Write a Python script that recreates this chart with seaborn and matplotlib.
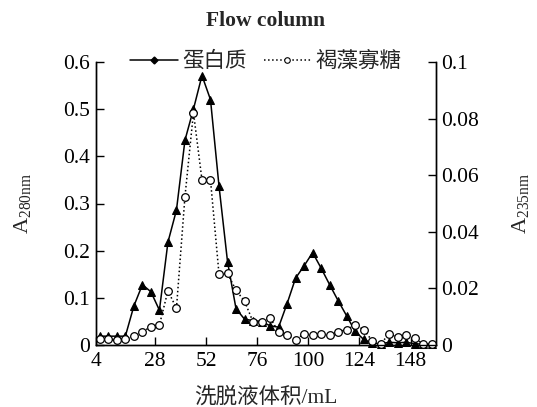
import numpy as np
import pandas as pd
import matplotlib
matplotlib.use("Agg")
import matplotlib.pyplot as plt
from matplotlib.lines import Line2D
from matplotlib.ticker import FuncFormatter
import seaborn as sns

sns.set_theme(style="ticks")
plt.rcParams["font.family"] = ["Liberation Serif", "Noto Sans CJK SC"]
plt.rcParams["mathtext.fontset"] = "stix"

# 洗脱液体积 (mL), one point per tube
volume = [2, 6, 10, 14, 18, 22, 26, 30, 34, 38,
          42, 46, 50, 54, 58, 62, 66, 70, 74, 78,
          82, 86, 90, 94, 98, 102, 106, 110, 114, 118,
          122, 126, 130, 134, 138, 142, 146, 150, 154, 158]

# 蛋白质 A280nm (left axis)
protein = [0.019, 0.019, 0.019, 0.019, 0.083, 0.128, 0.113, 0.074, 0.218, 0.286,
           0.434, 0.500, 0.571, 0.520, 0.337, 0.177, 0.077, 0.055, 0.052, 0.050,
           0.041, 0.038, 0.088, 0.142, 0.168, 0.196, 0.163, 0.128, 0.094, 0.062,
           0.029, 0.012, 0.004, 0.003, 0.006, 0.005, 0.006, 0.003, 0.002, 0.002]

# 褐藻寡糖 A235nm (right axis)
sugar = [0.0021, 0.0021, 0.0018, 0.0021, 0.0033, 0.0047, 0.0065, 0.0071, 0.0192, 0.0130,
         0.0524, 0.0821, 0.0583, 0.0583, 0.0251, 0.0253, 0.0194, 0.0155, 0.0082, 0.0082,
         0.0096, 0.0047, 0.0035, 0.0018, 0.0041, 0.0035, 0.0041, 0.0035, 0.0047, 0.0055,
         0.0071, 0.0055, 0.0015, 0.0004, 0.0041, 0.0027, 0.0035, 0.0024, 0.0004, 0.0004]

xticks = [0, 28, 52, 76, 100, 124, 148]
xticklabels = ["4", "28", "52", "76", "100", "124", "148"]

df = pd.DataFrame({"volume": volume, "protein": protein, "sugar": sugar})

fig = plt.figure(figsize=(5.37, 4.07), dpi=100)
ax = fig.add_axes([0.178, 0.152, 0.634, 0.696])
ax2 = ax.twinx()

sns.lineplot(data=df, x="volume", y="protein", ax=ax, color="black", lw=1.1,
             marker="^", markersize=6, markeredgecolor="black",
             estimator=None, sort=False, clip_on=False)
sns.lineplot(data=df, x="volume", y="sugar", ax=ax2, color="black", lw=1.1,
             linestyle=":", marker="o", markersize=5.5, markerfacecolor="white",
             markeredgecolor="black", markeredgewidth=0.9,
             estimator=None, sort=False, clip_on=False)

ax.set_xlim(0, 160)
ax.set_ylim(0, 0.6)
ax2.set_ylim(0, 0.1)
ax.set_xticks(xticks)
ax.set_xticklabels(xticklabels)
ax.set_yticks([0, 0.1, 0.2, 0.3, 0.4, 0.5, 0.6])
ax2.set_yticks([0, 0.02, 0.04, 0.06, 0.08, 0.1])
ax.yaxis.set_major_formatter(FuncFormatter(lambda v, p: f"{v:g}"))
ax2.yaxis.set_major_formatter(FuncFormatter(lambda v, p: f"{v:g}"))

for a in (ax, ax2):
    a.spines["top"].set_visible(False)
    for s in a.spines.values():
        s.set_linewidth(1.0)
        s.set_color("black")
    a.tick_params(direction="in", length=6, width=1.0, labelsize=15.5, colors="black", pad=4)
ax.tick_params(axis="x", pad=5)

ax.set_xlabel("洗脱液体积/mL", fontsize=15.5, labelpad=12)
ax.set_ylabel(r"A$\mathregular{_{280nm}}$", fontsize=16, labelpad=22)
ax2.set_ylabel(r"A$\mathregular{_{235nm}}$", fontsize=16, labelpad=22)
ax.set_title("Flow column", fontsize=15.5, fontweight="bold", pad=26)

handles = [
    Line2D([], [], color="black", lw=1.1, marker="D", markersize=3.5),
    Line2D([], [], color="black", lw=1.1, linestyle=":", marker="o", markersize=4,
           markerfacecolor="white", markeredgewidth=0.8),
]
ax.legend(handles, ["蛋白质", "褐藻寡糖"], loc="center", bbox_to_anchor=(0.5, 1.0),
          ncol=2, frameon=False, fontsize=15.5, handlelength=2.2, handletextpad=0.2,
          columnspacing=0.8, borderpad=0)

fig.savefig("out.png", dpi=100)
